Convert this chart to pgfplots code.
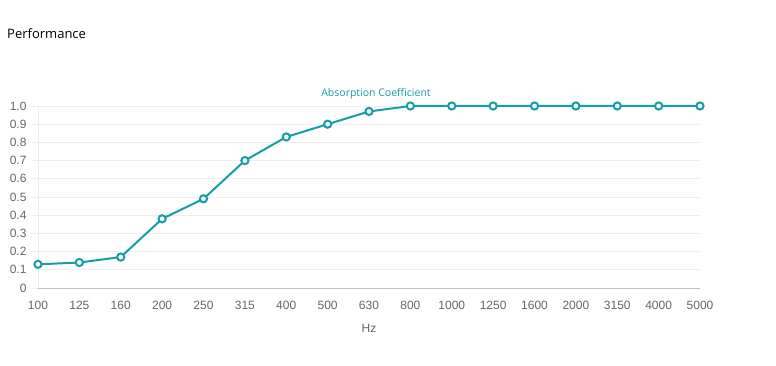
\documentclass[border=0pt]{standalone}
\usepackage{pgfplots}
\pgfplotsset{compat=1.18}
\usepackage{fontspec}
\setmainfont{Liberation Sans}
\newfontfamily\titlefont{Open Sans}
\definecolor{teal1}{RGB}{23,157,166}
\definecolor{tickgray}{RGB}{102,102,102}
\definecolor{gridgray}{RGB}{238,238,238}
\definecolor{axgray}{RGB}{190,190,190}
\begin{document}
\begin{tikzpicture}
\useasboundingbox (0pt,0pt) rectangle (776pt,366pt);
\fill[white] (0pt,0pt) rectangle (776pt,366pt);
\begin{axis}[
  at={(38pt,78pt)}, anchor=south west,
  scale only axis, width=662pt, height=182pt,
  xmin=0, xmax=16, ymin=0, ymax=1,
  xtick={0,...,16},
  xticklabels={100,125,160,200,250,315,400,500,630,800,1000,1250,1600,2000,3150,4000,5000},
  ytick={0,0.1,0.2,0.3,0.4,0.5,0.6,0.7,0.8,0.9,1.0},
  yticklabels={0,0.1,0.2,0.3,0.4,0.5,0.6,0.7,0.8,0.9,1.0},
  axis x line*=bottom, axis y line*=left,
  x axis line style={draw=axgray, line width=0.8pt, -},
  y axis line style={draw=gridgray, line width=0.6pt, -},
  ymajorgrids, grid style={draw=gridgray, line width=0.6pt},
  major y tick style={draw=gridgray, line width=0.6pt},
  major x tick style={draw=none},
  tick align=outside, major tick length=7pt,
  ticklabel style={font=\fontsize{12}{14}\selectfont, text=tickgray},
  xticklabel style={yshift=-3pt},
  yticklabel style={xshift=-1pt},
  /pgf/number format/assume math mode=true,
  clip=false,
]
\addplot[color=teal1, line width=2pt, mark=*, mark size=3.6pt,
  mark options={fill=white, draw=teal1, line width=2pt}]
  coordinates {(0,0.13) (1,0.14) (2,0.17) (3,0.38) (4,0.49) (5,0.70) (6,0.83) (7,0.90) (8,0.97) (9,1.0) (10,1.0) (11,1.0) (12,1.0) (13,1.0) (14,1.0) (15,1.0) (16,1.0)};
\end{axis}
\node[anchor=west, inner sep=0] at (7pt,332pt) {\titlefont\fontsize{13}{15}\selectfont Performance};
\node[inner sep=0] at (376pt,272pt) {\titlefont\fontsize{10.5}{12}\selectfont\color{teal1} Absorption Coefficient};
\node[inner sep=0] at (369pt,38pt) {\fontsize{12}{14}\selectfont\color{tickgray} Hz};
\end{tikzpicture}
\end{document}
